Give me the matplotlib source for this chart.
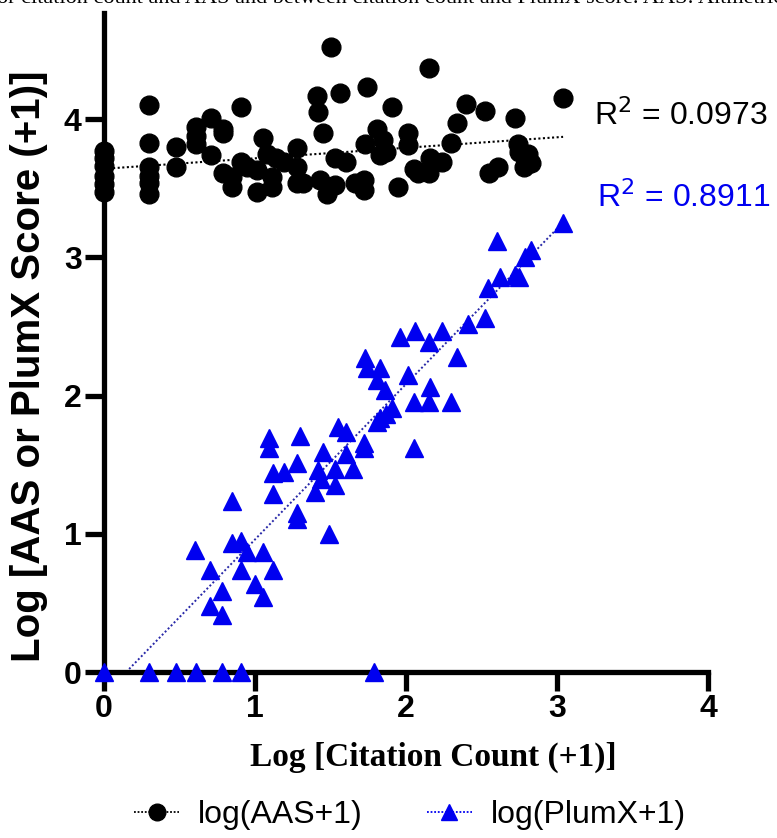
import numpy as np
import matplotlib
matplotlib.use('Agg')
import matplotlib.pyplot as plt

# log(AAS+1) points
aas_x = [0, 0, 0, 0, 0, 0,
         0.30, 0.30, 0.30, 0.30, 0.30, 0.30,
         0.48, 0.48, 0.61, 0.61, 0.61, 0.71, 0.71, 0.79, 0.79, 0.79,
         0.85, 0.85, 0.91, 0.91, 0.95, 1.01, 1.01, 1.05, 1.08, 1.11, 1.11,
         1.14, 1.19, 1.28, 1.28, 1.28, 1.32, 1.41, 1.42, 1.45, 1.43, 1.48,
         1.50, 1.53, 1.53, 1.56, 1.60, 1.66, 1.72, 1.72, 1.73, 1.74, 1.81,
         1.85, 1.83, 1.87, 1.91, 1.95, 2.01, 2.01, 2.05, 2.08, 2.15, 2.15,
         2.16, 2.24, 2.30, 2.34, 2.40, 2.52, 2.55, 2.61, 2.72, 2.74, 2.75,
         2.81, 2.78, 2.83, 3.04]
aas_y = [3.77, 3.72, 3.66, 3.59, 3.53, 3.47,
         4.10, 3.83, 3.65, 3.59, 3.54, 3.46,
         3.80, 3.65, 3.94, 3.88, 3.82, 4.01, 3.74, 3.93, 3.90, 3.61,
         3.51, 3.58, 4.09, 3.69, 3.65, 3.63, 3.47, 3.86, 3.75, 3.58, 3.51,
         3.72, 3.69, 3.79, 3.65, 3.54, 3.54, 4.17, 4.05, 3.90, 3.56, 3.46,
         4.52, 3.72, 3.52, 4.19, 3.69, 3.54, 3.56, 3.49, 3.82, 4.23, 3.93,
         3.85, 3.74, 3.76, 4.09, 3.51, 3.90, 3.81, 3.64, 3.61, 3.61, 4.37,
         3.72, 3.69, 3.83, 3.97, 4.11, 4.06, 3.61, 3.65, 4.01, 3.82, 3.76,
         3.75, 3.65, 3.68, 4.15]

# log(PlumX+1) points
plumx_x = [0, 0.30, 0.48, 0.61, 0.78, 0.91, 1.79,
           0.60, 0.70, 0.70, 0.78, 0.78, 0.85, 0.85, 0.91, 0.91, 0.95, 1.05,
           1.00, 1.05, 1.12, 1.09, 1.09, 1.12, 1.12, 1.19, 1.28, 1.30, 1.28,
           1.28, 1.49, 1.40, 1.44, 1.42, 1.45, 1.53, 1.53, 1.60, 1.65, 1.55,
           1.60, 1.72, 1.72, 1.73, 1.74, 1.81, 1.81, 1.83, 1.83, 1.86, 1.87,
           1.91, 1.96, 2.01, 2.05, 2.05, 2.06, 2.15, 2.15, 2.16, 2.24, 2.30,
           2.34, 2.41, 2.52, 2.54, 2.60, 2.62, 2.72, 2.75, 2.79, 2.83, 3.04]
plumx_y = [0, 0, 0, 0, 0, 0, 0,
           0.88, 0.74, 0.48, 0.59, 0.41, 1.24, 0.93, 0.95, 0.74, 0.87, 0.87,
           0.64, 0.54, 0.74, 1.69, 1.62, 1.44, 1.29, 1.45, 1.51, 1.71, 1.15,
           1.11, 1.00, 1.30, 1.40, 1.46, 1.59, 1.47, 1.35, 1.58, 1.47, 1.77,
           1.74, 1.66, 1.62, 2.27, 2.20, 1.81, 2.11, 2.20, 1.84, 2.04, 1.87,
           1.91, 2.42, 2.15, 1.95, 1.62, 2.47, 1.95, 2.39, 2.06, 2.47, 1.95,
           2.28, 2.52, 2.56, 2.78, 3.12, 2.86, 2.87, 2.86, 3.00, 3.05, 3.25]

# trend lines (slope, intercept) as drawn in the figure
aas_fit = (0.076, 3.64)
plumx_fit = (1.124, -0.165)
aas_r2 = 0.0973
plumx_r2 = 0.8911

blue = '#0000f0'

fig = plt.figure(figsize=(7.77, 8.38), dpi=100)
ax = fig.add_axes([0.1338, 0.198, 0.7775, 0.787])

# trend lines
xa = np.array([0, 3.04])
ax.plot(xa, aas_fit[0] * xa + aas_fit[1], ls=(0, (1, 1.2)), color='black', lw=1.5, zorder=2)
xb = np.array([-plumx_fit[1] / plumx_fit[0], 3.04])
ax.plot(xb, plumx_fit[0] * xb + plumx_fit[1], ls=(0, (1, 1.2)), color='#2828a8', lw=1.4, zorder=2)

ax.plot(aas_x, aas_y, 'o', color='black', ms=13.5, ls='none', clip_on=False, zorder=3)
ax.plot(plumx_x, plumx_y, '^', color=blue, ms=13.5, ls='none', clip_on=False, zorder=3)

ax.set_xlim(0, 4)
ax.set_ylim(0, 4.77)
ax.set_xticks([0, 1, 2, 3, 4])
ax.set_yticks([0, 1, 2, 3, 4])
for s in ['top', 'right']:
    ax.spines[s].set_visible(False)
for s in ['left', 'bottom']:
    ax.spines[s].set_linewidth(3.8)
ax.tick_params(width=3.8, length=14, direction='out', pad=2, labelsize=23)
for lab in ax.get_xticklabels() + ax.get_yticklabels():
    lab.set_fontweight('bold')
    lab.set_family('Liberation Sans')

ax.set_ylabel('Log [AAS or PlumX Score (+1)]', fontsize=29, fontweight='bold',
              family='Liberation Sans')
ax.yaxis.set_label_coords(-0.093, 0.463)
ax.set_xlabel('Log [Citation Count (+1)]', fontsize=24, fontweight='bold',
              family='Liberation Serif')
ax.xaxis.set_label_coords(0.546, -0.105)

fig.text(0.765, 0.862, 'R$^2$ = %.4f' % aas_r2, fontsize=23, family='Liberation Sans',
         color='black', va='center')
fig.text(0.768, 0.764, 'R$^2$ = %.4f' % plumx_r2, fontsize=23, family='Liberation Sans',
         color=blue, va='center')

# cropped caption line at the top
fig.text(-0.004, 1.002, 'or citation count and AAS and between citation count and PlumX score. AAS: Altmetric',
         fontsize=16, family='Liberation Serif', va='center', ha='left')

h1, = ax.plot([], [], marker='o', color='black', ms=12, ls=(0, (1, 1)), lw=1.3)
h2, = ax.plot([], [], marker='^', color=blue, ms=12, ls=(0, (1, 1)), lw=1.3,
              markeredgecolor=blue)
fig.legend([h1, h2], ['log(AAS+1)', 'log(PlumX+1)'], loc='center', bbox_to_anchor=(0.528, 0.027),
           ncol=2, frameon=False, prop={'family': 'Liberation Sans', 'size': 23},
           handlelength=1.4, handletextpad=0.6, columnspacing=2.0)

plt.savefig('out.png', dpi=100)
